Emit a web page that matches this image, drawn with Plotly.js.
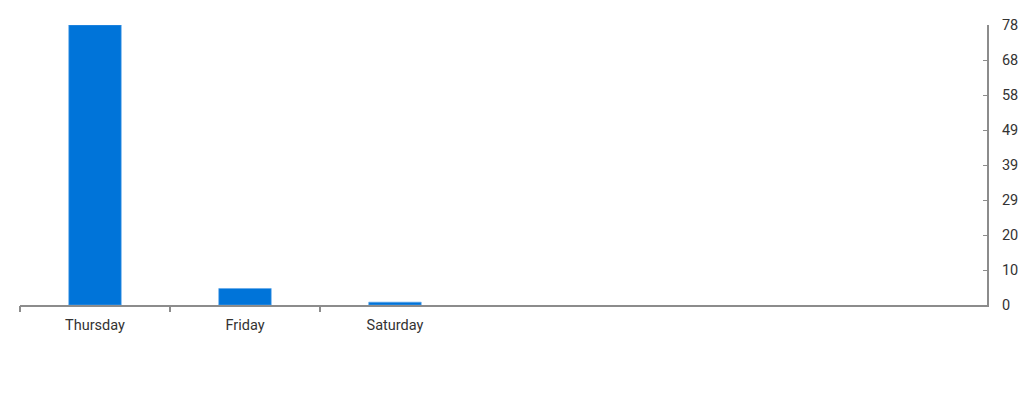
<!DOCTYPE html>
<html>
<head>
<meta charset="utf-8">
<script src="https://cdn.plot.ly/plotly-3.0.1.min.js"></script>
<style>
	html, body { margin: 0; padding: 0; background: #fff; }
	#crtDays { width: 1024px; height: 400px; }
</style>
</head>
<body>
<div id="crtDays"></div>
<script>
// Day names and values
var dayName = ["Thursday", "Friday", "Saturday"];
var dayValue = [78, 4.6, 0.8];

// Right axis ticks (max split into 8 even steps, labels rounded)
var tickVals = [0, 9.75, 19.5, 29.25, 39, 48.75, 58.5, 68.25, 78];
var tickText = ["0", "10", "20", "29", "39", "49", "58", "68", "78"];

// x range in category units (the plot leaves room for more days)
var xRange = [-0.5, 5.947];

var dayChart = function(names, values) {
	// tick marks sit on the left edge of every day
	var edges = [];
	var zeros = [];
	for (var i = 0; i < names.length; i++) {
		edges.push(i - 0.5);
		zeros.push(0);
	}

	var bars = {
		x: names,
		y: values,
		type: 'bar',
		width: 0.35,
		marker: {
			color: '#0074D9',
			line: { color: '#5ea6ea', width: 0.6 }
		},
		hoverinfo: 'x+y'
	};

	// invisible helper so the tick-mark axis gets drawn
	var edgeTicks = {
		x: edges,
		y: zeros,
		xaxis: 'x2',
		type: 'scatter',
		mode: 'markers',
		marker: { opacity: 0 },
		hoverinfo: 'skip'
	};

	var layout = {
		width: 1024,
		height: 400,
		showlegend: false,
		paper_bgcolor: '#fff',
		plot_bgcolor: '#fff',
		font: { family: 'Roboto, sans-serif', size: 14.5, color: '#333' },
		margin: {
			l: 20,
			r: 37,
			b: 95,
			t: 25,
			pad: 0
		},
		xaxis: {
			type: 'category',
			range: xRange,
			showgrid: false,
			zeroline: false,
			showline: true,
			linecolor: '#8c8c8c',
			linewidth: 2,
			ticks: '',
			ticklabelstandoff: 6,
			tickfont: { size: 14.5, color: '#333' }
		},
		xaxis2: {
			overlaying: 'x',
			anchor: 'y',
			side: 'bottom',
			type: 'linear',
			range: xRange,
			tickmode: 'array',
			tickvals: edges,
			showticklabels: false,
			showgrid: false,
			zeroline: false,
			showline: false,
			ticks: 'outside',
			ticklen: 6,
			tickcolor: '#8c8c8c',
			tickwidth: 2
		},
		yaxis: {
			side: 'right',
			range: [0, 78],
			tickmode: 'array',
			tickvals: tickVals,
			ticktext: tickText,
			showgrid: false,
			zeroline: false,
			showline: true,
			linecolor: '#8c8c8c',
			linewidth: 2,
			ticks: 'inside',
			ticklen: 4,
			tickcolor: '#8c8c8c',
			tickwidth: 1,
			ticklabelstandoff: 10,
			tickfont: { size: 14.5, color: '#333' }
		}
	};

	Plotly.newPlot('crtDays', [bars, edgeTicks], layout, { displayModeBar: false, staticPlot: true });
}

dayChart(dayName, dayValue);
</script>
</body>
</html>
